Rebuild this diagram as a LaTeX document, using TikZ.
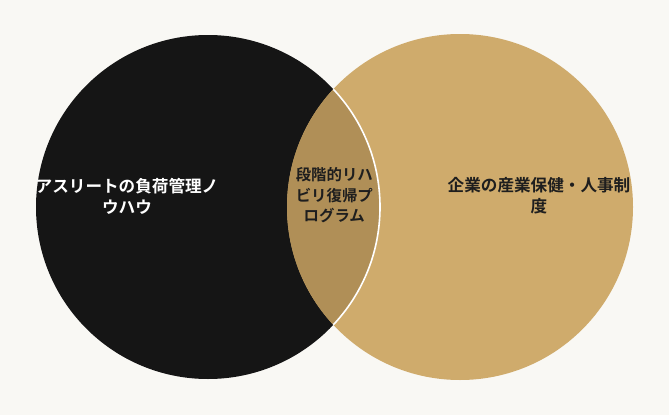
\documentclass[tikz,border=0pt]{standalone}
\usepackage{fontspec}
\newfontfamily\jpb{Noto Sans CJK JP Bold}
\definecolor{bgc}{HTML}{F9F8F4}
\definecolor{blk}{HTML}{151515}
\definecolor{tan}{HTML}{CFAB6C}
\definecolor{lens}{HTML}{B08F57}
\definecolor{dtxt}{HTML}{1E1E1E}
\tikzset{
  lbl/.style={font=\jpb\fontsize{16.6}{21}\selectfont, align=center, inner sep=0pt},
  lblsm/.style={font=\jpb\fontsize{15.4}{20.5}\selectfont, align=center, inner sep=0pt},
}
\begin{document}
\begin{tikzpicture}[x=1pt,y=-1pt]
\fill[bgc] (0,0) rectangle (669,415);
\useasboundingbox (0,0) rectangle (669,415);
\coordinate (cl) at (208,207);
\coordinate (cr) at (460,207);
\fill[blk] (cl) circle[radius=172];
\fill[tan] (cr) circle[radius=173];
\begin{scope}
  \clip (cl) circle[radius=172];
  \fill[lens] (cr) circle[radius=173];
\end{scope}
\begin{scope}
  \clip (cr) circle[radius=173];
  \draw[white, line width=1.6pt] (cl) circle[radius=172];
\end{scope}
\node[lbl, text=white] (a) at (127,196) {アスリートの負荷管理ノ\\ウハウ};
\node[lblsm, text=dtxt] (m) at (334.3,195.5) {段階的リハ\\ビリ復帰プ\\ログラム};
\node[lbl, text=dtxt] (b) at (539,196) {企業の産業保健・人事制\\度};
\end{tikzpicture}
\end{document}
